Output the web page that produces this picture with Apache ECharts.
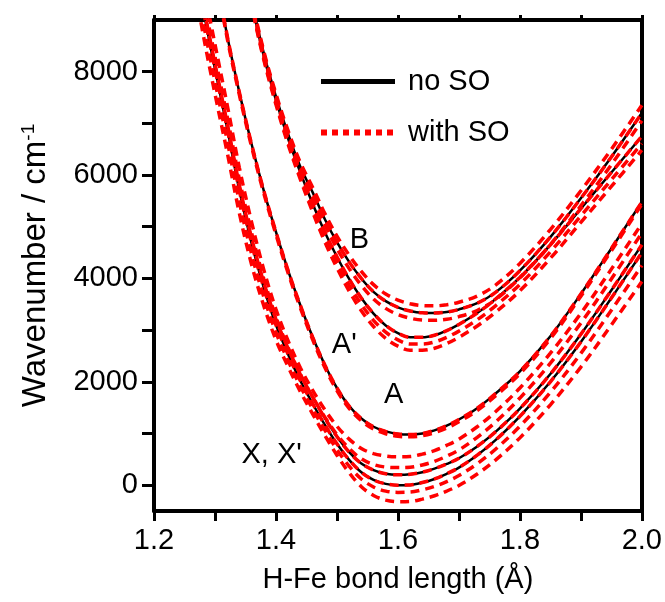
<!DOCTYPE html>
<html>
<head>
<meta charset="utf-8">
<script src="https://cdn.jsdelivr.net/npm/echarts@6/dist/echarts.min.js"></script>
<style>html,body{margin:0;padding:0;background:#fff;}#c{width:665px;height:602px;}</style>
</head>
<body>
<div id="c"></div>
<script>
// ---- data (bond length in Å, energy in cm^-1) ----
const R_GRID = [1.26,1.28,1.30,1.32,1.34,1.36,1.38,1.40,1.42,1.44,1.46,1.48,1.50,1.52,1.54,1.56,1.58,1.60,1.62,1.64,1.66,1.68,1.70,1.73,1.76,1.80,1.85,1.90,1.95,2.00];

// no SO (black)
const X_NOSO  = [10600,9250,8050,6900,5700,4680,3820,3100,2530,2020,1580,1170,800,490,250,100,25,0,5,50,120,220,340,580,870,1330,2000,2770,3620,4500];
const XP_NOSO = [10700,9350,8150,7000,5800,4780,3920,3210,2640,2140,1710,1300,940,640,420,290,220,200,210,250,320,410,520,750,1030,1480,2150,2920,3770,4650];
const A_NOSO  = [12800,11300,10000,8700,7600,6600,5700,4900,4150,3480,2870,2330,1880,1530,1290,1130,1040,990,980,1000,1060,1150,1270,1490,1770,2200,2880,3700,4580,5480];
const AP_NOSO = [16000,14500,13200,12000,10700,9350,8300,7450,6700,6050,5450,4900,4420,3990,3620,3320,3090,2940,2860,2860,2900,2990,3110,3330,3600,4020,4650,5350,6050,6750];
const B_NOSO  = [16050,14550,13250,12050,10750,9400,8360,7520,6790,6160,5670,5150,4700,4320,4000,3740,3560,3440,3370,3335,3330,3350,3400,3520,3730,4150,4800,5550,6350,7200];

// with SO (red dashed)
const X_SO_1 = [10100,8760,7570,6440,5260,4270,3470,2810,2290,1810,1380,965,580,240,-30,-200,-290,-320,-315,-270,-205,-115,-5,215,485,915,1555,2285,3100,3940];
const X_SO_2 = [10350,9005,7810,6670,5480,4475,3645,2955,2410,1915,1480,1070,690,370,120,-35,-115,-140,-135,-90,-25,70,185,415,695,1140,1795,2550,3385,4250];
const X_SO_3 = [10600,9250,8050,6900,5700,4680,3820,3100,2530,2020,1580,1170,800,490,250,100,25,0,5,50,120,220,340,580,870,1330,2000,2770,3620,4500];
const X_SO_4 = [10700,9350,8150,7000,5800,4780,3920,3210,2640,2140,1710,1300,940,640,420,290,220,200,210,250,320,410,520,750,1030,1480,2150,2920,3770,4650];
const X_SO_5 = [10850,9495,8290,7130,5920,4885,3995,3250,2660,2145,1710,1320,980,710,510,400,350,340,345,390,460,560,680,925,1220,1685,2360,3135,3990,4880];
const X_SO_6 = [11100,9740,8530,7360,6140,5090,4170,3400,2790,2270,1840,1460,1140,890,710,610,565,550,555,600,670,770,890,1130,1420,1880,2555,3325,4180,5060];
const A_SO_1 = [12800,11300,10000,8700,7600,6600,5700,4900,4150,3480,2870,2330,1880,1530,1290,1130,1040,990,980,1000,1060,1150,1270,1490,1770,2200,2880,3700,4580,5480];
const A_SO_2 = [12750,11250,9950,8650,7550,6550,5650,4850,4100,3430,2820,2280,1830,1485,1245,1085,995,945,935,955,1015,1105,1225,1445,1725,2155,2835,3655,4535,5435];
const U_SO_1 = [16070,14570,13270,12070,10775,9430,8400,7570,6855,6240,5765,5260,4820,4450,4135,3880,3700,3580,3510,3475,3470,3490,3540,3660,3870,4290,4945,5695,6500,7350];
const U_SO_2 = [16050,14550,13250,12050,10750,9400,8360,7520,6790,6160,5670,5150,4700,4320,4000,3740,3560,3440,3370,3335,3330,3350,3400,3520,3730,4150,4800,5550,6350,7200];
const U_SO_3 = [16030,14530,13230,12030,10725,9370,8320,7470,6725,6080,5575,5040,4580,4190,3865,3600,3420,3300,3230,3195,3190,3210,3260,3380,3590,4010,4655,5405,6200,7050];
const U_SO_4 = [16000,14500,13200,12000,10700,9350,8300,7450,6700,6050,5450,4900,4420,3990,3620,3320,3090,2940,2860,2860,2900,2990,3110,3330,3600,4020,4650,5350,6050,6750];
const U_SO_5 = [15985,14485,13185,11985,10680,9325,8265,7405,6640,5975,5365,4800,4310,3870,3495,3190,2960,2810,2730,2730,2770,2860,2980,3200,3470,3885,4515,5210,5910,6610];
const U_SO_6 = [15970,14470,13170,11970,10660,9300,8235,7365,6590,5915,5290,4710,4205,3755,3375,3070,2840,2690,2610,2610,2650,2740,2860,3080,3345,3760,4390,5085,5780,6480];

// state labels [x, y, text]
const STATE_LABELS = [[1.537,4745,'B'],[1.512,2713,"A'"],[1.593,1745,'A'],[1.393,585,"X, X'"]];

// axis ticks / labels
const X_TICKS = [1.2,1.3,1.4,1.5,1.6,1.7,1.8,1.9,2.0];
const X_LABELS = [1.2,1.4,1.6,1.8,2.0];
const Y_TICKS = [0,1000,2000,3000,4000,5000,6000,7000,8000];
const Y_LABELS = [0,2000,4000,6000,8000];

// ---- chart ----
const FONT = "'Liberation Sans', Arial, sans-serif";
const zip = (xs, ys) => xs.map((x, i) => [x, ys[i]]);

const noSO = [X_NOSO, XP_NOSO, A_NOSO, AP_NOSO, B_NOSO];
const withSO = [X_SO_1, X_SO_2, X_SO_3, X_SO_4, X_SO_5, X_SO_6, A_SO_1, A_SO_2,
                U_SO_1, U_SO_2, U_SO_3, U_SO_4, U_SO_5, U_SO_6];

const series = [];
noSO.forEach(ys => series.push({
  name: 'no SO', type: 'line', data: zip(R_GRID, ys), smooth: 0.35, symbol: 'none',
  lineStyle: { color: '#000', width: 2.5 }, itemStyle: { color: '#000' }, z: 2
}));
withSO.forEach(ys => series.push({
  name: 'with SO', type: 'line', data: zip(R_GRID, ys), smooth: 0.35, symbol: 'none',
  lineStyle: { color: '#ff0000', width: 3.5, type: [9, 6] }, itemStyle: { color: '#ff0000' }, z: 3
}));
series.push({
  type: 'scatter', data: STATE_LABELS, symbolSize: 0, silent: true, z: 5,
  itemStyle: { opacity: 1, color: '#000' },
  label: { show: true, position: 'inside', formatter: p => p.data[2], fontSize: 29, color: '#000', opacity: 1, fontFamily: FONT }
});

const axisLine = { show: true, onZero: false, lineStyle: { color: '#000', width: 4 } };
const chart = echarts.init(document.getElementById('c'), null, { renderer: 'canvas' });
chart.setOption({
  animation: false,
  backgroundColor: '#fff',
  grid: { left: 154, right: 21, top: 20, bottom: 91, containLabel: false },
  legend: {
    orient: 'vertical', left: 313, top: 62, itemWidth: 74, itemHeight: 2, itemGap: 22,
    data: [
      { name: 'no SO', lineStyle: { width: 5, color: '#000' }, itemStyle: { opacity: 0 } },
      { name: 'with SO', lineStyle: { width: 6, color: '#ff0000', type: [6, 5] }, itemStyle: { opacity: 0 } }
    ],
    textStyle: { fontSize: 29, color: '#000', fontFamily: FONT, padding: [0, 0, 0, 8] },
    selectedMode: false
  },
  xAxis: [{
    type: 'value', min: 1.2, max: 2.0, interval: 0.1, position: 'bottom',
    axisLine: axisLine, splitLine: { show: false },
    axisTick: { show: true, inside: false, length: 10, customValues: X_TICKS, lineStyle: { width: 3, color: '#000' } },
    axisLabel: { customValues: X_LABELS, formatter: v => v.toFixed(1), fontSize: 29, color: '#000', fontFamily: FONT, margin: 15 },
    name: 'H-Fe bond length (Å)', nameLocation: 'middle', nameGap: 54,
    nameTextStyle: { fontSize: 29, color: '#000', fontFamily: FONT }
  }, {
    type: 'value', min: 1.2, max: 2.0, interval: 0.1, position: 'top',
    axisLine: axisLine, splitLine: { show: false },
    axisTick: { show: true, inside: false, length: 5, customValues: X_TICKS, lineStyle: { width: 3, color: '#000' } },
    axisLabel: { show: false }
  }],
  yAxis: [{
    type: 'value', min: -500, max: 9000, position: 'left',
    axisLine: axisLine, splitLine: { show: false },
    axisTick: { show: true, inside: false, length: 12, customValues: Y_TICKS, lineStyle: { width: 3, color: '#000' } },
    axisLabel: { customValues: Y_LABELS, formatter: v => String(v), fontSize: 29, color: '#000', fontFamily: FONT, margin: 16 },
    name: 'Wavenumber / cm{sup|-1}', nameLocation: 'middle', nameGap: 102, nameRotate: 90,
    nameTextStyle: { fontSize: 33, color: '#000', fontFamily: FONT,
      rich: { sup: { fontSize: 19, color: '#000', fontFamily: FONT, verticalAlign: 'top', padding: [0, 0, 12, 0] } } }
  }, {
    type: 'value', min: -500, max: 9000, position: 'right',
    axisLine: axisLine, splitLine: { show: false }, axisTick: { show: false }, axisLabel: { show: false }
  }],
  series: series
});
</script>
</body>
</html>
